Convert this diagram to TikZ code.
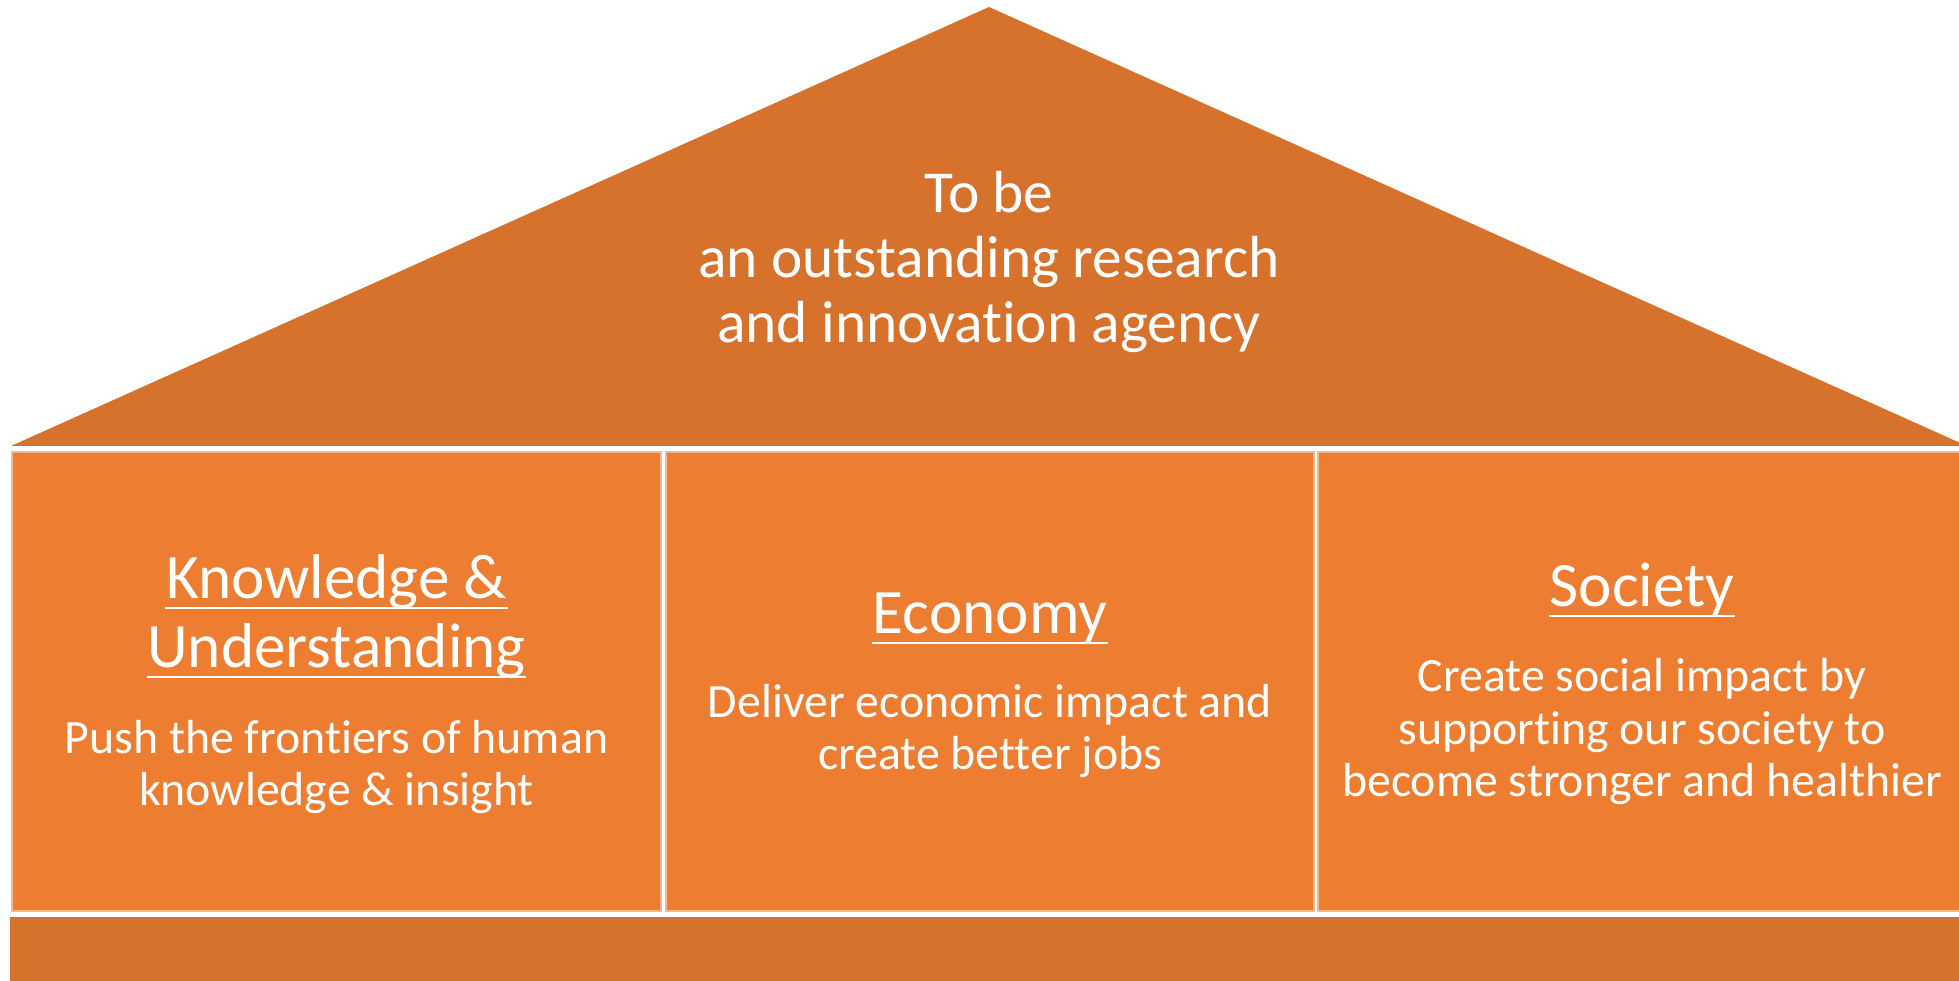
\documentclass[tikz,border=0pt]{standalone}
\usepackage{fontspec}
\setmainfont[Ligatures={NoCommon}]{Carlito}
\definecolor{roofcol}{RGB}{215,114,45}
\definecolor{pillarcol}{RGB}{237,125,49}
\tikzset{
	roof/.style={fill=roofcol},
	pillar/.style={fill=pillarcol,draw=pillarcol!55!white,line width=.4pt},
	headtext/.style={text=white,inner sep=0pt,anchor=base,align=center,font=\fontsize{18}{19.6}\selectfont},
	rooftext/.style={headtext,font=\fontsize{16.9}{18.6}\selectfont},
	bodytext/.style={text=white,inner sep=0pt,anchor=base,align=center,font=\fontsize{13.6}{15}\selectfont},
	uline/.style={white,line width=.85pt},
}
\begin{document}
\begin{tikzpicture}
	\useasboundingbox (0,0) rectangle (19.59,9.81);
	\begin{scope}
		\fill[roof]
			(.11,5.35) -- (9.89,9.74) -- (19.67,5.35) -- cycle
		;
		\fill[roof] (.10,0) rectangle (19.65,.64);
	\end{scope}
	\begin{scope}
		\filldraw[pillar] (.12,.70) rectangle (6.61,5.29);
		\filldraw[pillar] (6.66,.70) rectangle (13.14,5.29);
		\filldraw[pillar] (13.18,.70) rectangle (19.70,5.29);
	\end{scope}
	\node[rooftext] (vision) at (9.89,6.38)
		{To be\\an outstanding research\\and innovation agency};
	% pillars
	\node[headtext] (know1) at (3.365,3.82) {Knowledge \&};
	\node[headtext] (know2) at (3.365,3.13) {Understanding};
	\node[bodytext] (knowtxt) at (3.365,1.75)
		{Push the frontiers of human\\knowledge \& insight};
	\node[headtext] (econ) at (9.90,3.47) {Economy};
	\node[bodytext] (econtxt) at (9.90,2.11)
		{Deliver economic impact and\\create better jobs};
	\node[headtext] (soc) at (16.42,3.74) {Society};
	\node[bodytext] (soctxt) at (16.42,1.84)
		{Create social impact by\\supporting our society to\\become stronger and healthier};
	\foreach \n in {know1,know2,econ,soc}
		\draw[uline]
			([yshift=-.09cm]\n.base west) -- ([yshift=-.09cm]\n.base east)
		;
\end{tikzpicture}
\end{document}
